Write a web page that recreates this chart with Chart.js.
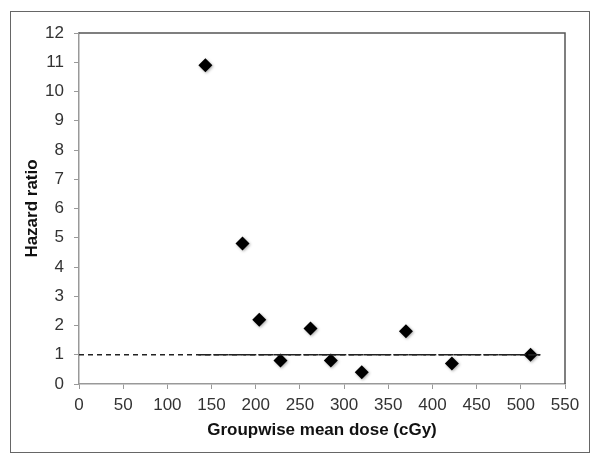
<!DOCTYPE html>
<html>
<head>
<meta charset="utf-8">
<script src="https://cdn.jsdelivr.net/npm/chart.js@4"></script>
<style>
  body { margin: 0; background: #fff; }
  #wrap { position: relative; width: 600px; height: 461px; }
  #frame { position: absolute; left: 10px; top: 11px; width: 580px; height: 442px; border: 1px solid #666; box-sizing: border-box; pointer-events: none; }
</style>
</head>
<body>
<div id="wrap">
  <canvas id="chart" width="600" height="461"></canvas>
  <div id="frame"></div>
</div>
<script>
// groupwise mean dose (cGy) and hazard ratio
const doses = [143, 185, 204, 228, 262, 285, 320, 370, 422, 511];
const hazard = [10.9, 4.8, 2.2, 0.8, 1.9, 0.8, 0.4, 1.8, 0.7, 1.0];

// reference line HR = 1
const refShortX = [0, 522];
const refLongX = [135, 522];
const refY = 1;

const xTicks = [0, 50, 100, 150, 200, 250, 300, 350, 400, 450, 500, 550];
const yTicks = [0, 1, 2, 3, 4, 5, 6, 7, 8, 9, 10, 11, 12];

const font = "'Liberation Sans', Arial, sans-serif";

const boxPlugin = {
  id: 'plotBox',
  afterDraw(chart) {
    const { ctx, chartArea: a } = chart;
    ctx.save();
    ctx.strokeStyle = '#555';
    ctx.lineWidth = 1.5;
    ctx.beginPath();
    ctx.moveTo(a.left, a.top);
    ctx.lineTo(a.right, a.top);
    ctx.lineTo(a.right, a.bottom);
    ctx.stroke();
    ctx.restore();
  }
};

const shadowPlugin = {
  id: 'markerShadow',
  beforeDatasetDraw(chart, args) {
    if (args.index !== 2) return;
    const ctx = chart.ctx;
    ctx.save();
    ctx.shadowColor = 'rgba(0,0,0,0.35)';
    ctx.shadowBlur = 3;
    ctx.shadowOffsetX = 1;
    ctx.shadowOffsetY = 1;
  },
  afterDatasetDraw(chart, args) {
    if (args.index !== 2) return;
    chart.ctx.restore();
  }
};

new Chart(document.getElementById('chart'), {
  type: 'scatter',
  data: {
    datasets: [
      {
        type: 'line',
        data: refShortX.map(x => ({ x, y: refY })),
        borderColor: '#222',
        borderWidth: 1.3,
        borderDash: [5, 4],
        pointRadius: 0,
        fill: false
      },
      {
        type: 'line',
        data: refLongX.map(x => ({ x, y: refY })),
        borderColor: '#222',
        borderWidth: 1.3,
        borderDash: [13, 2],
        pointRadius: 0,
        fill: false
      },
      {
        data: doses.map((x, i) => ({ x, y: hazard[i] })),
        pointStyle: 'rectRot',
        pointRadius: 7,
        backgroundColor: '#000',
        borderColor: '#000',
        borderWidth: 0
      }
    ]
  },
  options: {
    responsive: false,
    animation: false,
    layout: { padding: { left: 10, top: 33, right: 35, bottom: 9 } },
    plugins: { legend: { display: false }, tooltip: { enabled: false } },
    scales: {
      x: {
        type: 'linear',
        min: 0, max: 550,
        afterBuildTicks: s => { s.ticks = xTicks.map(v => ({ value: v })); },
        afterFit: s => { s.height = 68; },
        border: { color: '#999', width: 1.5 },
        grid: { drawOnChartArea: false, tickLength: 5, color: '#999' },
        ticks: { color: '#333', font: { family: font, size: 17 }, padding: 6, maxRotation: 0 },
        title: { display: true, text: 'Groupwise mean dose (cGy)', color: '#111', font: { family: font, size: 17, weight: 'bold' }, padding: { top: 0, bottom: 11 } }
      },
      y: {
        min: 0, max: 12,
        afterBuildTicks: s => { s.ticks = yTicks.map(v => ({ value: v })); },
        afterFit: s => { s.width = 69; },
        border: { color: '#999', width: 1.5 },
        grid: { drawOnChartArea: false, tickLength: 5, color: '#999' },
        ticks: { color: '#333', font: { family: font, size: 17 }, padding: 10 },
        title: { display: true, text: 'Hazard ratio', color: '#111', font: { family: font, size: 17, weight: 'bold' }, padding: { top: 12, bottom: 0 } }
      }
    }
  },
  plugins: [boxPlugin, shadowPlugin]
});
</script>
</body>
</html>
